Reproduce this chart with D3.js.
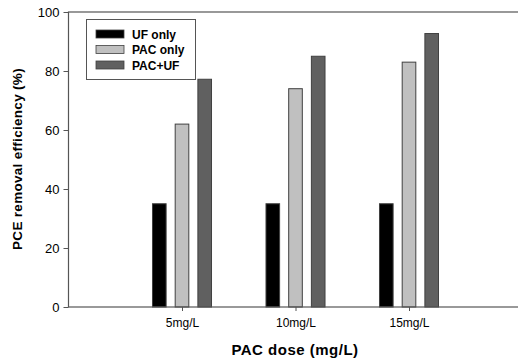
<!DOCTYPE html>
<html><head><meta charset="utf-8">
<script src="https://cdn.jsdelivr.net/npm/d3@7/dist/d3.min.js"></script>
<style>body{margin:0;background:#fff}svg{display:block}text{font-family:Arial,"Liberation Sans",sans-serif}</style>
</head><body><svg id="c" width="518" height="360"></svg>
<script>
const doses = [5, 10, 15];
const doseLabels = ["5mg/L", "10mg/L", "15mg/L"];
const seriesNames = ["UF only", "PAC only", "PAC+UF"];
const ufOnly = [35, 35, 35];
const pacOnly = [62, 74, 83];
const pacUf = [77.2, 85, 92.7];
const yTicks = [0, 20, 40, 60, 80, 100];
const colors = ["#000000", "#c0c0c0", "#606060"];
const seriesValues = [ufOnly, pacOnly, pacUf];
const offsets = [-1, 0, 1];

const svg = d3.select("#c");
const L = 68.5, R = 522.5, T = 12, B = 307;
const x = d3.scaleLinear().domain([0, 20]).range([L, R]);
const y = d3.scaleLinear().domain([0, 100]).range([B, T]);
const bw = x(0.6) - x(0);

seriesValues.forEach((vals, si) => {
  svg.append("g").selectAll("rect").data(vals).join("rect")
    .attr("x", (d, i) => x(doses[i] + offsets[si]) - bw / 2)
    .attr("y", d => y(d))
    .attr("width", bw)
    .attr("height", d => y(0) - y(d))
    .attr("fill", colors[si])
    .attr("stroke", "#404040")
    .attr("stroke-width", 1);
});

// frame
svg.append("rect").attr("x", L).attr("y", T).attr("width", R - L).attr("height", B - T)
  .attr("fill", "none").attr("stroke", "#555").attr("stroke-width", 1.2);

const ya = svg.append("g").attr("transform", `translate(${L},0)`)
  .call(d3.axisLeft(y).tickValues(yTicks).tickSize(5).tickPadding(4));
ya.select(".domain").remove();
ya.selectAll("line").attr("stroke", "#555");
ya.selectAll("text").attr("font-size", 13).attr("fill", "#000");

const xa = svg.append("g").attr("transform", `translate(0,${B})`)
  .call(d3.axisBottom(x).tickValues(doses).tickFormat((d, i) => doseLabels[i]).tickSize(4).tickPadding(7));
xa.select(".domain").remove();
xa.selectAll("line").attr("stroke", "#555");
xa.selectAll("text").attr("font-size", 12).attr("fill", "#000");

svg.append("text").attr("x", 295).attr("y", 355).attr("text-anchor", "middle")
  .attr("font-size", 15).attr("font-weight", "bold").attr("letter-spacing", 0.5).text("PAC dose (mg/L)");
svg.append("text").attr("transform", "translate(22,159) rotate(-90)").attr("text-anchor", "middle")
  .attr("font-size", 13.5).attr("font-weight", "bold").attr("letter-spacing", 0.3).text("PCE removal efficiency (%)");

// legend
const lg = svg.append("g");
lg.append("rect").attr("x", 86.5).attr("y", 19.5).attr("width", 109).attr("height", 60)
  .attr("fill", "#fff").attr("stroke", "#555").attr("stroke-width", 1);
seriesNames.forEach((n, i) => {
  const yy = 30 + i * 15.5;
  lg.append("rect").attr("x", 96).attr("y", yy).attr("width", 28).attr("height", 8)
    .attr("fill", colors[i]).attr("stroke", "#404040").attr("stroke-width", 0.8);
  lg.append("text").attr("x", 132).attr("y", yy + 8.5).attr("font-size", 12)
    .attr("font-weight", "bold").text(n);
});
</script></body></html>
